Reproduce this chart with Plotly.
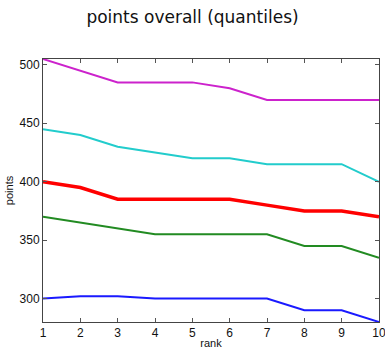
import plotly.graph_objects as go

rank = [1, 2, 3, 4, 5, 6, 7, 8, 9, 10]
q_top = [505, 495, 485, 485, 485, 480, 470, 470, 470, 470]
q_upper = [445, 440, 430, 425, 420, 420, 415, 415, 415, 400]
q_median = [400, 395, 385, 385, 385, 385, 380, 375, 375, 370]
q_lower = [370, 365, 360, 355, 355, 355, 355, 345, 345, 335]
q_bottom = [300, 302, 302, 300, 300, 300, 300, 290, 290, 280]

series = [
    (q_top, "#cc22cc", 2),
    (q_upper, "#22cccc", 2),
    (q_median, "#ff0000", 3.5),
    (q_lower, "#228b22", 2),
    (q_bottom, "#1a1aff", 2),
]

fig = go.Figure()
for ys, color, width in series:
    fig.add_trace(go.Scatter(x=rank, y=ys, mode="lines",
                             line=dict(color=color, width=width),
                             showlegend=False))

axis_common = dict(
    showgrid=False, zeroline=False, showline=True, linecolor="#444444",
    linewidth=1, mirror="ticks", ticks="inside", ticklen=4, automargin=False,
    ticklabeloverflow="allow",
    tickcolor="#555555", tickfont=dict(family="Liberation Sans", size=12, color="#111111"),
)

fig.update_layout(
    width=385, height=349,
    margin=dict(l=43, r=6, t=59, b=27),
    paper_bgcolor="white", plot_bgcolor="white",
    title=dict(text="points overall (quantiles)", x=0.5, xanchor="center",
               y=0.95, yanchor="middle",
               font=dict(family="DejaVu Sans", size=17, color="#111111")),
    xaxis=dict(range=[1, 10], tickvals=rank, ticktext=[str(r) for r in rank],
               title=dict(text="rank", standoff=4,
                          font=dict(family="Liberation Sans", size=11, color="#111111")),
               **axis_common),
    yaxis=dict(range=[280, 505], tickvals=[300, 350, 400, 450, 500],
               title=dict(text="points", standoff=3,
                          font=dict(family="Liberation Sans", size=11, color="#111111")),
               **axis_common),
)

fig.write_html("out.html")
